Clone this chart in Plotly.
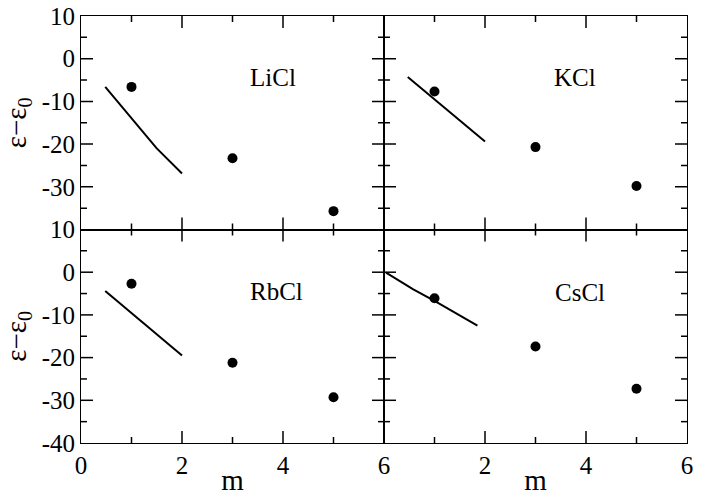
import plotly.graph_objects as go
from plotly.subplots import make_subplots

salts = ["LiCl", "KCl", "RbCl", "CsCl"]

# measured points (m = 1, 3, 5)
m_points = [1, 3, 5]
LiCl_pts = [-6.6, -23.3, -35.7]
KCl_pts = [-7.7, -20.7, -29.8]
RbCl_pts = [-2.7, -21.2, -29.3]
CsCl_pts = [-6.1, -17.4, -27.3]

# model curves
LiCl_line_m = [0.48, 1.0, 1.5, 2.0]
LiCl_line_y = [-6.6, -14.0, -21.0, -26.9]
KCl_line_m = [0.47, 1.0, 2.0]
KCl_line_y = [-4.3, -9.5, -19.4]
RbCl_line_m = [0.48, 1.0, 2.0]
RbCl_line_y = [-4.4, -9.6, -19.5]
CsCl_line_m = [0.04, 0.58, 1.0, 1.85]
CsCl_line_y = [-0.1, -4.0, -6.7, -12.5]

label_pos_m = [3.8, 3.78, 3.88, 3.88]
label_pos_y = [-4.5, -4.5, -4.5, -4.7]

x_tickvals = [0, 2, 4, 6]
x_minorvals = [1, 3, 5]
x_ticktext_left = ["0", "2", "4", "6"]
x_ticktext_right = ["", "2", "4", "6"]
y_tickvals = [-40, -30, -20, -10, 0, 10]
y_minorvals = [-35, -25, -15, -5, 5]
y_ticktext_top = ["", "-30", "-20", "-10", "0", "10"]
y_ticktext_bottom = ["-40", "-30", "-20", "-10", "0", "10"]

points = [LiCl_pts, KCl_pts, RbCl_pts, CsCl_pts]
lines = [(LiCl_line_m, LiCl_line_y), (KCl_line_m, KCl_line_y),
         (RbCl_line_m, RbCl_line_y), (CsCl_line_m, CsCl_line_y)]
cells = [(1, 1), (1, 2), (2, 1), (2, 2)]

FONT = "Liberation Serif"
X_RANGE = [0, 6]
Y_RANGE = [-40, 10]
MAJOR_LEN = 12
MINOR_LEN = 6
TICK_W = 1.5

fig = make_subplots(rows=2, cols=2, horizontal_spacing=0, vertical_spacing=0)

for i, (r, c) in enumerate(cells):
    lm, ly = lines[i]
    fig.add_trace(go.Scatter(x=lm, y=ly, mode="lines",
                             line=dict(color="black", width=2),
                             showlegend=False, hoverinfo="skip"), row=r, col=c)
    fig.add_trace(go.Scatter(x=m_points, y=points[i], mode="markers",
                             marker=dict(color="black", size=10),
                             showlegend=False), row=r, col=c)
    axn = "" if i == 0 else str(i + 1)
    fig.add_annotation(x=label_pos_m[i], y=label_pos_y[i], text=salts[i],
                       xref="x" + axn, yref="y" + axn, showarrow=False,
                       font=dict(family=FONT, size=25, color="black"))

label_font = dict(family=FONT, size=25, color="black")
title_font = dict(family=FONT, size=29, color="black")

for i, (r, c) in enumerate(cells):
    fig.update_xaxes(row=r, col=c, range=X_RANGE, tickmode="array",
                     tickvals=x_tickvals,
                     ticktext=x_ticktext_left if c == 1 else x_ticktext_right,
                     showticklabels=(r == 2), ticks="",
                     showline=True, linecolor="black", linewidth=1, mirror=True,
                     showgrid=False, zeroline=False, automargin=False,
                     tickfont=label_font,
                     title=dict(text="m" if r == 2 else "", font=title_font,
                                standoff=0))
    fig.update_yaxes(row=r, col=c, range=Y_RANGE, tickmode="array",
                     tickvals=y_tickvals,
                     ticktext=y_ticktext_top if r == 1 else y_ticktext_bottom,
                     showticklabels=(c == 1), ticks="",
                     showline=True, linecolor="black", linewidth=1, mirror=True,
                     showgrid=False, zeroline=False, automargin=False,
                     tickfont=label_font,
                     title=dict(text="ε−ε<sub>0</sub>" if c == 1 else "",
                                font=title_font, standoff=12))

# tick marks on all four sides of each panel, placed through the axes' scales;
# they are symmetric and get clipped to the panel, so only the inner half shows
tick_line = dict(color="black", width=TICK_W)
for i in range(4):
    base = "" if i == 0 else str(i + 1)
    xr, yr = "x" + base, "y" + base
    for vals, ln in ((x_tickvals, MAJOR_LEN), (x_minorvals, MINOR_LEN)):
        for v in vals:
            if not (X_RANGE[0] < v < X_RANGE[1]):
                continue
            for anchor in Y_RANGE:
                fig.add_shape(type="line", xref=xr, yref=yr, x0=v, x1=v,
                              ysizemode="pixel", yanchor=anchor, y0=-ln, y1=ln,
                              line=tick_line, layer="above")
    for vals, ln in ((y_tickvals, MAJOR_LEN), (y_minorvals, MINOR_LEN)):
        for v in vals:
            if not (Y_RANGE[0] < v < Y_RANGE[1]):
                continue
            for anchor in X_RANGE:
                fig.add_shape(type="line", xref=xr, yref=yr, y0=v, y1=v,
                              xsizemode="pixel", xanchor=anchor, x0=-ln, x1=ln,
                              line=tick_line, layer="above")

fig.update_layout(width=701, height=496,
                  margin=dict(l=81, r=14, t=16, b=53),
                  plot_bgcolor="white", paper_bgcolor="white")

fig.write_html("out.html", config={"displayModeBar": False},
               post_script="document.body.style.margin='0';")
